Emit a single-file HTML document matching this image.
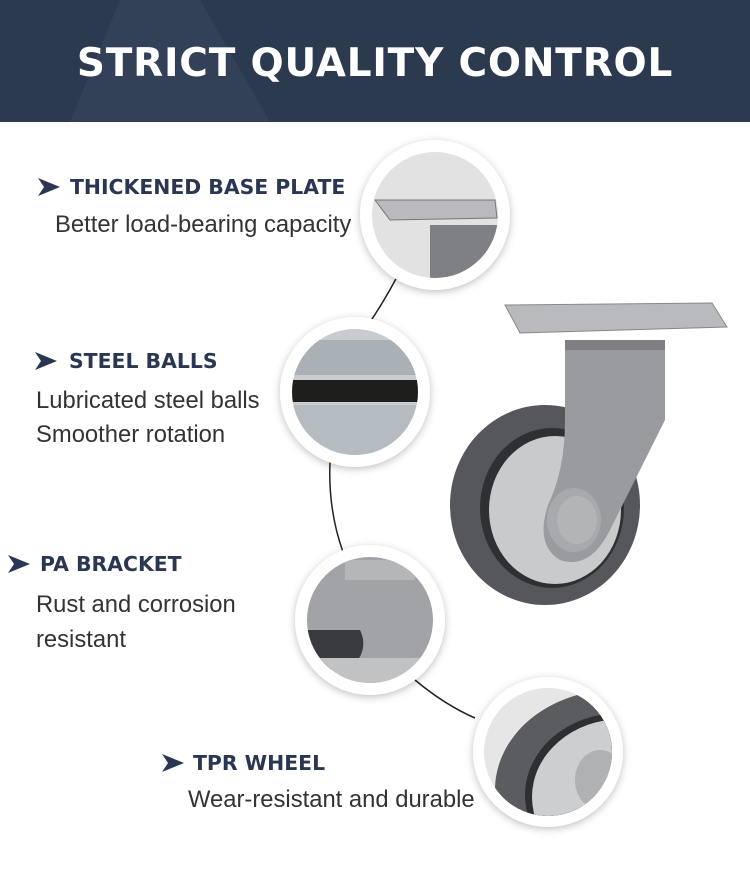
<!DOCTYPE html>
<html><head><style>
body{margin:0;width:750px;height:874px;overflow:hidden;background:#fff}
svg{display:block}
.h{font-family:"DejaVu Sans","Liberation Sans",sans-serif;font-weight:bold;fill:#2b3752;font-size:20.4px}
.t{font-family:"Liberation Sans",sans-serif;fill:#333;font-size:23.8px}
</style></head><body>
<svg width="750" height="874" viewBox="0 0 750 874">
<defs>
<filter id="sh" x="-30%" y="-30%" width="160%" height="160%"><feDropShadow dx="0" dy="2" stdDeviation="4" flood-color="#000" flood-opacity="0.25"/></filter>
<clipPath id="c1"><circle cx="435" cy="215" r="63"/></clipPath>
<clipPath id="c2"><circle cx="355" cy="392" r="63"/></clipPath>
<clipPath id="c3"><circle cx="370" cy="620" r="63"/></clipPath>
<clipPath id="c4"><circle cx="548" cy="752" r="64"/></clipPath>
</defs>
<rect width="750" height="122" fill="#2c3a4f"/>
<path d="M70 122 L120 0 L200 0 L270 122Z" fill="#35445b" opacity="0.7"/>
<text x="375" y="76" text-anchor="middle" font-family="DejaVu Sans,Liberation Sans,sans-serif" font-weight="bold" font-size="39" fill="#fff" letter-spacing="0.8">STRICT QUALITY CONTROL</text>

<!-- connectors -->
<path d="M398 275 Q385 300 368 325" stroke="#222" stroke-width="1.5" fill="none"/>
<path d="M330 462 Q328 510 343 552" stroke="#222" stroke-width="1.5" fill="none"/>
<path d="M415 680 Q445 705 475 718" stroke="#222" stroke-width="1.5" fill="none"/>

<!-- main caster -->
<ellipse cx="545" cy="505" rx="95" ry="100" fill="#55575c"/>
<ellipse cx="552" cy="508" rx="72" ry="80" fill="#2f3033"/>
<ellipse cx="555" cy="510" rx="66" ry="74" fill="#c9cacc"/>
<path d="M565 340 L665 340 L665 420 Q640 470 610 530 Q590 570 560 560 Q535 545 548 505 Q565 470 565 420Z" fill="#9a9b9e"/>
<path d="M565 340 L665 340 L665 350 L565 350Z" fill="#7e7f82"/>
<ellipse cx="574" cy="520" rx="27" ry="32" fill="#a8a9ac"/>
<ellipse cx="577" cy="520" rx="20" ry="24" fill="#b3b4b6"/>
<path d="M505 305 L712 303 L727 327 L520 333Z" fill="#b8babd" stroke="#888" stroke-width="1"/>

<!-- circles -->
<g filter="url(#sh)"><circle cx="435" cy="215" r="75" fill="#fff"/><circle cx="355" cy="392" r="75" fill="#fff"/><circle cx="370" cy="620" r="75" fill="#fff"/><circle cx="548" cy="752" r="75" fill="#fff"/></g>
<g clip-path="url(#c1)"><rect x="370" y="150" width="130" height="130" fill="#e2e2e2"/><rect x="430" y="225" width="70" height="60" fill="#7f8083"/><path d="M375 200 L495 200 L497 218 L390 220Z" fill="#b8babd" stroke="#777"/></g>
<g clip-path="url(#c2)"><rect x="290" y="328" width="130" height="130" fill="#c8ccd0"/><rect x="290" y="380" width="130" height="22" fill="#1e1e1c"/><rect x="290" y="340" width="130" height="35" fill="#a9b0b6"/><rect x="290" y="405" width="130" height="50" fill="#b4bcc2"/></g>
<g clip-path="url(#c3)"><rect x="305" y="555" width="130" height="130" fill="#a2a3a6"/><rect x="345" y="560" width="70" height="20" fill="#b5b6b8"/><path d="M305 630 L360 630 Q370 650 350 670 L305 670Z" fill="#3a3b3e"/><rect x="305" y="658" width="130" height="30" fill="#c1c2c4"/></g>
<g clip-path="url(#c4)"><rect x="484" y="688" width="130" height="130" fill="#e6e6e6"/><ellipse cx="615" cy="790" rx="120" ry="100" fill="#5b5c60"/><ellipse cx="620" cy="795" rx="95" ry="82" fill="#2e2f32"/><ellipse cx="622" cy="797" rx="90" ry="78" fill="#cdced0"/><ellipse cx="600" cy="780" rx="25" ry="30" fill="#b0b1b3"/></g>

<!-- text -->
<path d="M38 178 L60 187 L38 196 L44 187Z" fill="#2b3752"/>
<text class="h" x="70" y="194">THICKENED BASE PLATE</text>
<text class="t" x="55" y="232">Better load-bearing capacity</text>
<path d="M35 352 L57 361 L35 370 L41 361Z" fill="#2b3752"/>
<text class="h" x="69" y="368">STEEL BALLS</text>
<text class="t" x="36" y="408">Lubricated steel balls</text>
<text class="t" x="36" y="442">Smoother rotation</text>
<path d="M8 555 L30 564 L8 573 L14 564Z" fill="#2b3752"/>
<text class="h" x="40" y="571">PA BRACKET</text>
<text class="t" x="36" y="612">Rust and corrosion</text>
<text class="t" x="36" y="647">resistant</text>
<path d="M162 754 L184 763 L162 772 L168 763Z" fill="#2b3752"/>
<text class="h" x="193" y="770">TPR WHEEL</text>
<text class="t" x="188" y="807">Wear-resistant and durable</text>
</svg>
</body></html>
